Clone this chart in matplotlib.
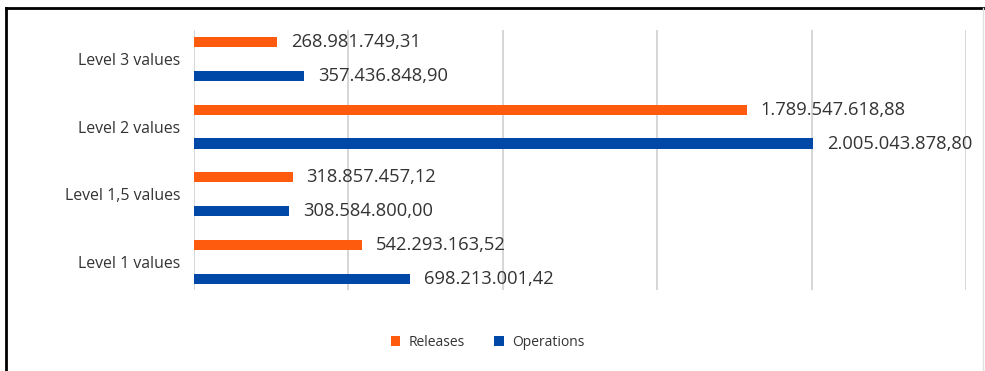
import matplotlib.pyplot as plt
from matplotlib.lines import Line2D
import numpy as np

# dados do gráfico
categories = ['Level 1 values', 'Level 1,5 values', 'Level 2 values', 'Level 3 values']
releases = [542293163.52, 318857457.12, 1789547618.88, 268981749.31]
operations = [698213001.42, 308584800.00, 2005043878.80, 357436848.90]
releases_labels = ['542.293.163,52', '318.857.457,12', '1.789.547.618,88', '268.981.749,31']
operations_labels = ['698.213.001,42', '308.584.800,00', '2.005.043.878,80', '357.436.848,90']

plt.rcParams['font.family'] = ['Open Sans', 'DejaVu Sans']

fig = plt.figure(figsize=(9.85, 3.71), dpi=100)
ax = fig.add_axes([0.197, 0.218, 0.784, 0.701])

y = np.arange(len(categories))
orange = '#FF5B0E'
blue = '#0048A8'

ax.barh(y + 0.25, releases, height=0.15, color=orange, label='Releases', zorder=3)
ax.barh(y - 0.25, operations, height=0.15, color=blue, label='Operations', zorder=3)

# rótulos de valor
for yi, v, s in zip(y, releases, releases_labels):
    ax.text(v + 0.045e9, yi + 0.25, s, va='center', ha='left', fontsize=13.2, color='#333333')
for yi, v, s in zip(y, operations, operations_labels):
    ax.text(v + 0.045e9, yi - 0.25, s, va='center', ha='left', fontsize=13.2, color='#333333')

ax.set_xlim(0, 2.5e9)
ax.set_ylim(-0.42, 3.43)
ax.set_xticks(np.arange(0, 2.51e9, 0.5e9))
ax.set_xticklabels([])
ax.tick_params(axis='x', length=0)
ax.grid(axis='x', color='#D0D0D0', linewidth=1.2, zorder=0)
ax.set_yticks(y)
ax.set_yticklabels(categories, fontsize=11.4, color='#333333')
ax.tick_params(axis='y', length=0, pad=10)
for sp in ax.spines.values():
    sp.set_visible(False)

# legenda
ax.legend(loc='center', bbox_to_anchor=(0.38, -0.2), ncol=2, frameon=False,
          fontsize=10, handlelength=0.7, handleheight=0.7, columnspacing=2.1,
          handletextpad=0.6, labelcolor='#333333')

# moldura
fig.add_artist(Line2D([0.006, 0.006], [0, 0.978], color='black', lw=2, transform=fig.transFigure))
fig.add_artist(Line2D([0.006, 1.0], [0.978, 0.978], color='black', lw=2, transform=fig.transFigure))
fig.add_artist(Line2D([0.998, 0.998], [0, 0.978], color='#E0E0E0', lw=1, transform=fig.transFigure))

fig.savefig('out.png', dpi=100)
